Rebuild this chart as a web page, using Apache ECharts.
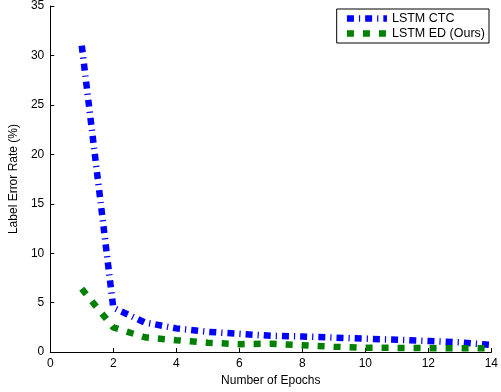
<!DOCTYPE html>
<html>
<head>
<meta charset="utf-8">
<script src="https://cdn.jsdelivr.net/npm/echarts@6/dist/echarts.min.js"></script>
<style>
html, body { margin: 0; padding: 0; background: #fff; }
#chart { width: 501px; height: 392px; }
</style>
</head>
<body>
<div id="chart"></div>
<script>
var epochs = [1, 2, 3, 4, 5, 6, 7, 8, 9, 10, 11, 12, 13, 14];
var ctcRate = [31, 4.5, 3.0, 2.4, 2.05, 1.85, 1.65, 1.58, 1.47, 1.35, 1.25, 1.12, 0.98, 0.72];
var edRate = [6.4, 2.5, 1.5, 1.2, 0.95, 0.8, 0.85, 0.7, 0.55, 0.45, 0.42, 0.4, 0.4, 0.4];
var seriesNames = ['LSTM CTC', 'LSTM ED (Ours)'];

function pairs(xs, ys) {
    return xs.map(function (x, i) { return [x, ys[i]]; });
}

var font = 'Liberation Sans, Arial, Helvetica, sans-serif';

option = {
    backgroundColor: '#fff',
    animation: false,
    grid: {
        left: 50,
        right: 6,
        top: 4,
        bottom: 37
    },
    legend: {
        right: 12,
        top: 9,
        orient: 'vertical',
        itemWidth: 40,
        itemHeight: 12,
        itemGap: 2,
        padding: [3, 4, 3, 7],
        borderColor: '#000',
        borderWidth: 1,
        borderRadius: 0,
        backgroundColor: '#fff',
        itemStyle: { opacity: 0 },
        lineStyle: { width: 6.5 },
        textStyle: { color: '#000', fontSize: 12.5, fontFamily: font },
        data: seriesNames
    },
    xAxis: {
        type: 'value',
        min: 0,
        max: 14,
        interval: 2,
        name: 'Number of Epochs',
        nameLocation: 'middle',
        nameGap: 21,
        nameTextStyle: { color: '#000', fontSize: 12, fontFamily: font },
        axisLine: { lineStyle: { color: '#000', width: 1 } },
        axisTick: { inside: true, length: 4, lineStyle: { color: '#000' } },
        axisLabel: { color: '#000', fontSize: 12, fontFamily: font, margin: 6 },
        splitLine: { show: false }
    },
    yAxis: {
        type: 'value',
        min: 0,
        max: 35,
        interval: 5,
        name: 'Label Error Rate (%)',
        nameLocation: 'middle',
        nameGap: 23,
        nameTextStyle: { color: '#000', fontSize: 12, fontFamily: font },
        axisLine: { show: true, lineStyle: { color: '#000', width: 1 } },
        axisTick: { show: true, inside: true, length: 4, lineStyle: { color: '#000' } },
        axisLabel: { color: '#000', fontSize: 12, fontFamily: font, margin: 6 },
        splitLine: { show: false }
    },
    series: [{
        name: seriesNames[0],
        type: 'line',
        data: pairs(epochs, ctcRate),
        showSymbol: false,
        symbol: 'none',
        color: '#0000ff',
        lineStyle: {
            color: '#0000ff',
            width: 6.5,
            type: [7, 5, 1.2, 5],
            cap: 'butt'
        }
    }, {
        name: seriesNames[1],
        type: 'line',
        data: pairs(epochs, edRate),
        showSymbol: false,
        symbol: 'none',
        color: '#008000',
        lineStyle: {
            color: '#008000',
            width: 6.5,
            type: [7, 9],
            cap: 'butt'
        }
    }]
};

var chart = echarts.init(document.getElementById('chart'));
chart.setOption(option);
</script>
</body>
</html>
